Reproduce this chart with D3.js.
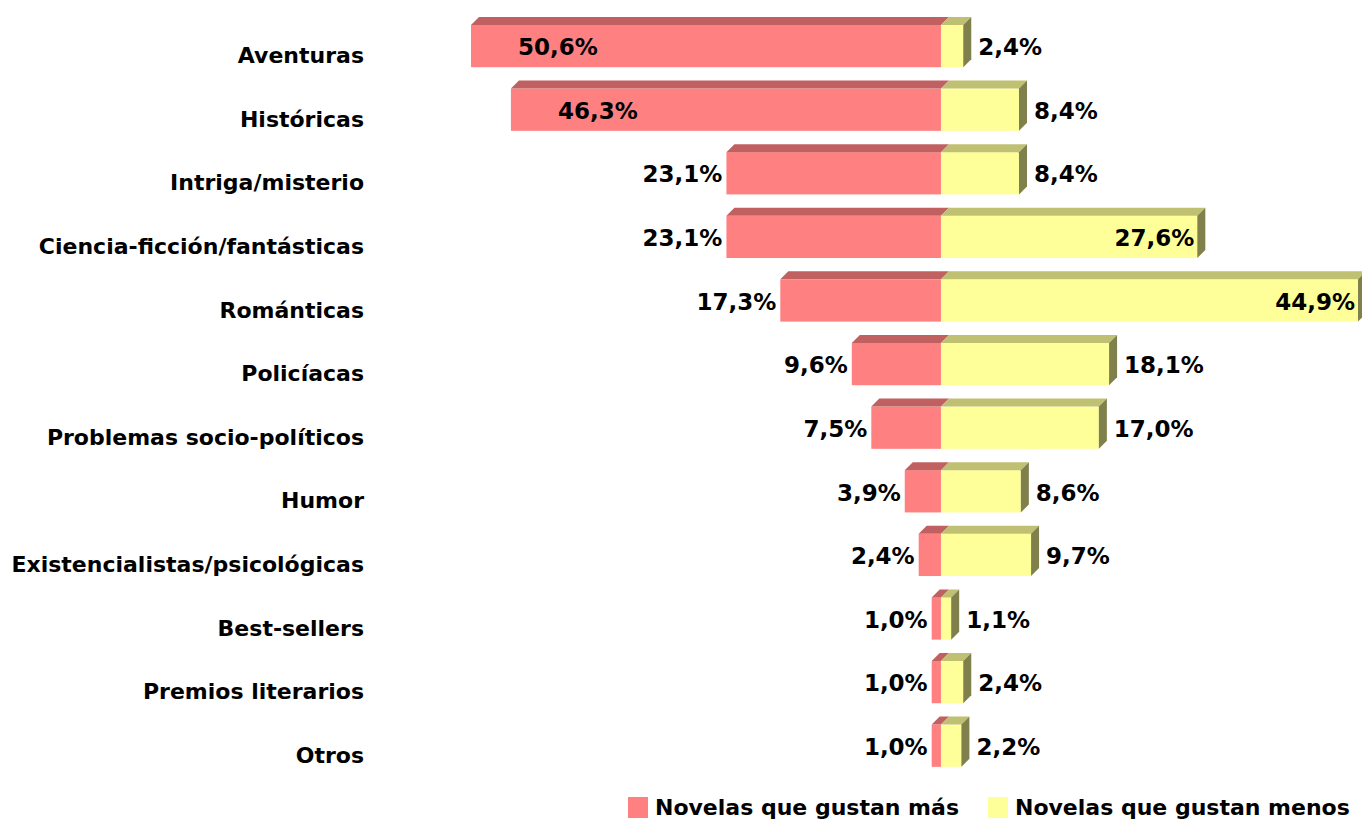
<!DOCTYPE html>
<html>
<head>
<meta charset="utf-8">
<script src="https://cdn.jsdelivr.net/npm/d3@7"></script>
<style>
  body { margin: 0; background: #fff; }
  svg text { font-family: "DejaVu Sans", sans-serif; font-weight: bold; fill: #000; }
</style>
</head>
<body>
<svg id="chart" width="1362" height="821"></svg>
<script>
// data
var categories = ["Aventuras", "Históricas", "Intriga/misterio", "Ciencia-ficción/fantásticas",
  "Románticas", "Policíacas", "Problemas socio-políticos", "Humor",
  "Existencialistas/psicológicas", "Best-sellers", "Premios literarios", "Otros"];
var gustanMas = [50.6, 46.3, 23.1, 23.1, 17.3, 9.6, 7.5, 3.9, 2.4, 1.0, 1.0, 1.0];
var gustanMenos = [2.4, 8.4, 8.4, 27.6, 44.9, 18.1, 17.0, 8.6, 9.7, 1.1, 2.4, 2.2];
var seriesNames = ["Novelas que gustan más", "Novelas que gustan menos"];

var svg = d3.select("#chart");
var depth = 8;
var fmt = function(v){ return v.toFixed(1).replace(".", ",") + "%"; };

var x = d3.scaleLinear()
  .domain([-d3.max(gustanMas), d3.max(gustanMenos)])
  .range([471, 1358]);
var y = d3.scaleBand().domain(categories).range([3.6, 780.2]).padding(0.21);
var bw = y.bandwidth();
var x0 = x(0);

var rows = categories.map(function(c, i){ return {cat: c, mas: gustanMas[i], menos: gustanMenos[i]}; });

var g = svg.append("g");

// red bars (left)
var red = g.selectAll(".mas").data(rows).enter().append("g").attr("class", "mas");
red.append("rect")
  .attr("x", function(d){ return x(-d.mas); })
  .attr("y", function(d){ return y(d.cat) + depth; })
  .attr("width", function(d){ return x0 - x(-d.mas); })
  .attr("height", bw - depth)
  .attr("fill", "#FF8080");
red.append("polygon")
  .attr("points", function(d){
    var t = y(d.cat), l = x(-d.mas);
    return [[l, t + depth], [l + depth, t], [x0 + depth, t], [x0, t + depth]].join(" ");
  })
  .attr("fill", "#C06060");

// yellow bars (right)
var yel = g.selectAll(".menos").data(rows).enter().append("g").attr("class", "menos");
yel.append("rect")
  .attr("x", x0)
  .attr("y", function(d){ return y(d.cat) + depth; })
  .attr("width", function(d){ return x(d.menos) - x0; })
  .attr("height", bw - depth)
  .attr("fill", "#FFFF99");
yel.append("polygon")
  .attr("points", function(d){
    var t = y(d.cat), r = x(d.menos);
    return [[x0, t + depth], [x0 + depth, t], [r + depth, t], [r, t + depth]].join(" ");
  })
  .attr("fill", "#C0C073");
yel.append("polygon")
  .attr("points", function(d){
    var t = y(d.cat), r = x(d.menos);
    return [[r, t + depth], [r + depth, t], [r + depth, t + bw - depth], [r, t + bw]].join(" ");
  })
  .attr("fill", "#80804D");

// value labels
var midY = function(d){ return y(d.cat) + depth + (bw - depth) / 2; };
g.selectAll(".lblMas").data(rows).enter().append("text")
  .attr("class", "lblMas")
  .attr("font-size", 23)
  .attr("dy", "0.4em")
  .attr("y", midY)
  .attr("x", function(d){ return d.mas > 25 ? x(-d.mas) + 47 : x(-d.mas) - 4; })
  .attr("text-anchor", function(d){ return d.mas > 25 ? "start" : "end"; })
  .text(function(d){ return fmt(d.mas); });
g.selectAll(".lblMenos").data(rows).enter().append("text")
  .attr("class", "lblMenos")
  .attr("font-size", 23)
  .attr("dy", "0.4em")
  .attr("y", midY)
  .attr("x", function(d){ return d.menos > 25 ? x(d.menos) - 3 : x(d.menos) + depth + 7; })
  .attr("text-anchor", function(d){ return d.menos > 25 ? "end" : "start"; })
  .text(function(d){ return fmt(d.menos); });

// category labels
g.selectAll(".cat").data(categories).enter().append("text")
  .attr("class", "cat")
  .attr("font-size", 22)
  .attr("x", 364)
  .attr("y", function(d){ return y(d) + bw - 4; })
  .attr("text-anchor", "end")
  .text(function(d){ return d; });

// legend
var legend = svg.append("g").attr("transform", "translate(628,797)");
var colors = ["#FF8080", "#FFFF99"];
var lx = [0, 360];
seriesNames.forEach(function(n, i){
  legend.append("rect").attr("x", lx[i]).attr("y", 0).attr("width", 20).attr("height", 21).attr("fill", colors[i]);
  legend.append("text").attr("x", lx[i] + 27).attr("y", 18).attr("font-size", 22).text(n);
});
</script>
</body>
</html>
